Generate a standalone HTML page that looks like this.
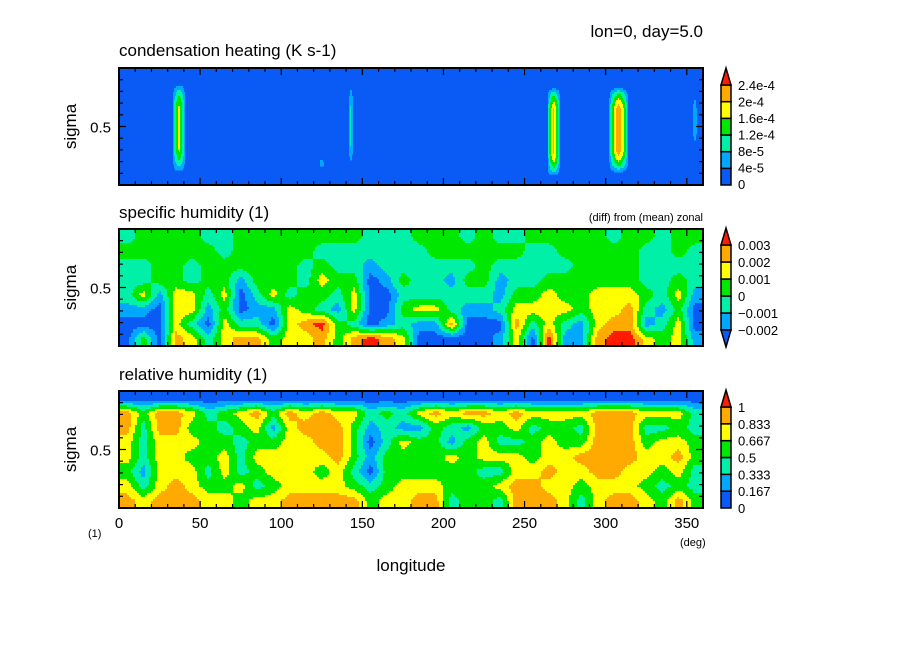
<!DOCTYPE html>
<html><head><meta charset="utf-8"><style>
html,body{margin:0;padding:0;background:#fff;}
svg{display:block;font-family:"Liberation Sans",sans-serif;}
</style></head><body>
<svg id="chart" width="904" height="654" viewBox="0 0 904 654" xmlns="http://www.w3.org/2000/svg">
<rect width="904" height="654" fill="#fff"/>
<text x="703" y="37" font-size="17" text-anchor="end">lon=0, day=5.0</text>
<text x="119" y="56" font-size="17">condensation heating (K s-1)</text>
<text x="119" y="218" font-size="17">specific humidity (1)</text>
<text x="703" y="221" font-size="11" text-anchor="end">(diff) from (mean) zonal</text>
<text x="119" y="380" font-size="17">relative humidity (1)</text>
<text x="88" y="537" font-size="11">(1)</text>
<text x="680" y="546" font-size="11">(deg)</text>
<text x="411" y="571" font-size="17" text-anchor="middle">longitude</text>
<g id="layers"></g>
</svg>
<script>
// ---- data ----
var colors = ["#0a5af5","#00a8ff","#00f0a8","#00e800","#ffff00","#ffaa00","#ff1a00"];
var heatLevels = [0,4e-5,8e-5,1.2e-4,1.6e-4,2e-4,2.4e-4];
var heatLevelLabels = ["0","4e-5","8e-5","1.2e-4","1.6e-4","2e-4","2.4e-4"];
var heatLon = [37,125,143,268,308,355];
var heatWidth = [4,2,1.5,4,6,1.5];
var heatPeak = [1.7e-4,6e-5,9e-5,2.1e-4,2.3e-4,7e-5];
var heatSigTop = [0.14,0.78,0.15,0.17,0.17,0.23];
var heatSigBot = [0.89,0.85,0.83,0.92,0.89,0.66];

var qLevels = [-0.002,-0.001,0,0.001,0.002,0.003];
var qLevelLabels = ["\u22120.002","\u22120.001","0","0.001","0.002","0.003"];
// specific humidity deviation (units 1e-3), rows top->bottom, 36 cols of 10 deg
var qRow0 = [-0.5,0.5,0.5,0.5,0.5,-0.5,-0.5,0.5,0.5,0.5,0.5,0.5,0.5,0.5,0.5,-0.5,-0.5,-0.5,0.5,0.5,0.5,-0.5,0.5,-0.5,-0.5,0.5,0.5,0.5,0.5,0.5,-0.5,0.5,0.5,-0.5,0.5,0.5];
var qRow1 = [0.5,0.5,0.5,0.5,0.5,0.5,-0.5,0.5,0.5,0.5,0.5,0.5,-0.5,-0.5,-0.5,-0.5,-0.5,-0.5,-0.5,0.5,0.5,0.5,0.5,0.5,0.5,-0.5,-0.5,0.5,0.5,0.5,0.5,0.5,-0.5,-0.5,0.5,-0.5];
var qRow2 = [-0.5,-0.5,0.5,0.5,-0.5,0.5,0.5,0.5,0.5,0.5,0.5,-0.5,0.5,-0.5,-0.5,-1.5,-0.5,-0.5,-0.5,-0.5,-0.5,-0.5,0.5,-0.5,-0.5,-0.5,-0.5,-0.5,0.5,0.5,0.5,0.5,-0.5,-0.5,-0.5,-0.5];
var qRow3 = [-0.5,-0.5,0.5,0.5,-0.5,0.5,0.5,-1.5,0.5,0.5,0.5,-0.5,1.5,0.5,0.5,-2.5,-1.5,0.5,-0.5,-0.5,-1.5,0.5,0.5,-1.5,-0.5,-0.5,0.5,0.5,0.5,0.5,0.5,0.5,-0.5,-0.5,0.5,-0.5];
var qRow4 = [-0.5,1.5,-1.5,1.5,1.5,-0.5,1.5,-2.5,-0.5,1.5,-0.5,0.5,0.5,-0.5,1.5,-2.5,-2.5,-0.5,-0.5,-0.5,-0.5,-0.5,-0.5,-1.5,0.5,0.5,1.5,0.5,0.5,1.5,1.5,1.5,0.5,-0.5,1.5,-1.5];
var qRow5 = [-1.5,-1.5,-2.5,1.5,1.5,-1.5,0.5,-2.5,-1.5,-1.5,1.5,0.5,-0.5,-1.5,1.5,-2.5,-2.5,0.5,1.5,1.5,-0.5,-1.5,-1.5,-0.5,1.5,1.5,1.5,1.5,0.5,1.5,1.5,2.5,-0.5,-1.5,0.5,-2.5];
var qRow6 = [-2.5,-2.5,-2.5,1.5,-0.5,-2.5,1.5,-0.5,-0.5,-2.5,1.5,2.5,3.5,0.5,-0.5,-2.5,-1.5,-0.5,-1.5,-1.5,2.5,-2.5,-2.5,-2.5,2.5,-0.5,1.5,-0.5,-1.5,1.5,2.5,2.5,-1.5,-0.5,1.5,-2.5];
var qRow7 = [-2.5,0.5,-2.5,2.5,1.5,-0.5,1.5,2.5,2.5,0.5,1.5,1.5,2.5,0.5,2.5,3.5,2.5,1.5,-2.5,-2.5,-2.5,-2.5,-2.5,-1.5,1.5,-2.5,3.5,-1.5,-1.5,2.5,3.5,3.5,1.5,0.5,1.5,-1.5];

var rhLevels = [0,0.167,0.333,0.5,0.667,0.833,1];
var rhLevelLabels = ["0","0.167","0.333","0.5","0.667","0.833","1"];
var rhRow0 = [0.05,0.05,0.05,0.05,0.05,0.05,0.05,0.05,0.05,0.05,0.05,0.05,0.05,0.05,0.05,0.05,0.05,0.05,0.05,0.05,0.05,0.05,0.05,0.05,0.05,0.05,0.05,0.05,0.05,0.05,0.05,0.05,0.05,0.05,0.05,0.05];
var rhRow1 = [0.92,0.58,0.92,0.92,0.75,0.42,0.58,0.75,0.92,0.58,0.92,0.75,0.92,0.75,0.75,0.42,0.58,0.42,0.75,0.92,0.75,0.92,0.92,0.75,0.92,0.75,0.75,0.75,0.75,0.92,0.92,0.92,0.75,0.75,0.75,0.42];
var rhRow2 = [0.92,0.42,0.92,0.92,0.58,0.58,0.42,0.58,0.75,0.25,0.75,0.92,0.92,0.92,0.58,0.25,0.42,0.25,0.25,0.58,0.42,0.25,0.58,0.58,0.75,0.42,0.58,0.58,0.42,0.92,0.92,0.92,0.42,0.42,0.58,0.42];
var rhRow3 = [0.75,0.42,0.75,0.75,0.75,0.58,0.58,0.42,0.58,0.58,0.75,0.75,0.92,0.92,0.58,0.08,0.42,0.75,0.58,0.58,0.25,0.58,0.75,0.42,0.42,0.58,0.75,0.58,0.58,0.92,0.92,0.92,0.58,0.75,0.75,0.58];
var rhRow4 = [0.75,0.42,0.75,0.75,0.58,0.58,0.75,0.42,0.75,0.75,0.75,0.75,0.75,0.92,0.58,0.25,0.58,0.58,0.58,0.58,0.75,0.58,0.75,0.75,0.75,0.58,0.75,0.75,0.92,0.92,0.92,0.92,0.75,0.75,0.92,0.58];
var rhRow5 = [0.58,0.25,0.75,0.75,0.75,0.42,0.75,0.42,0.58,0.75,0.75,0.75,0.58,0.75,0.42,0.08,0.58,0.58,0.58,0.58,0.58,0.58,0.42,0.42,0.75,0.75,0.92,0.75,0.75,0.92,0.92,0.75,0.75,0.58,0.75,0.42];
var rhRow6 = [0.75,0.42,0.75,0.92,0.75,0.58,0.58,0.75,0.42,0.58,0.75,0.75,0.75,0.75,0.58,0.42,0.58,0.75,0.75,0.75,0.58,0.58,0.58,0.75,0.92,0.92,0.75,0.75,0.58,0.75,0.75,0.75,0.58,0.42,0.58,0.42];
var rhRow7 = [0.92,0.75,0.92,0.92,0.92,0.75,0.75,0.58,0.75,0.75,0.92,0.92,0.92,0.92,0.92,0.58,0.75,0.75,0.92,0.92,0.42,0.58,0.58,0.42,0.92,0.92,0.92,0.75,0.42,0.75,0.92,0.92,0.75,0.58,0.92,0.58];

var xTicks = [0,50,100,150,200,250,300,350];

// ---- drawing ----
var NS = "http://www.w3.org/2000/svg";
var root = document.getElementById("layers");
var X0 = 119, X1 = 703;
var panels = [{top:68,bot:185},{top:229,bot:346},{top:391,bot:508}];
function xScale(lon){ return X0 + lon/360*(X1-X0); }
function yScale(p, sig){ return p.top + sig*(p.bot-p.top); }
function mk(tag, attrs, parent){
  var e = document.createElementNS(NS, tag);
  for (var k in attrs) e.setAttribute(k, attrs[k]);
  (parent||root).appendChild(e); return e;
}
function classify(v, levels, lowOpen){
  var idx = 0;
  for (var i=0;i<levels.length;i++) if (v >= levels[i]) idx = i + (lowOpen?1:0);
  return Math.min(idx, colors.length-1);
}
function gridValue(rows, lon, sig){
  var nc = rows[0].length, nr = rows.length;
  var fx = lon/360*nc - 0.5, fy = sig*nr - 0.5;
  fx = Math.max(0, Math.min(nc-1, fx)); fy = Math.max(0, Math.min(nr-1, fy));
  var i0 = Math.floor(fx), j0 = Math.floor(fy);
  var i1 = Math.min(nc-1,i0+1), j1 = Math.min(nr-1,j0+1);
  var tx = fx-i0, ty = fy-j0;
  var a = rows[j0][i0]*(1-tx)+rows[j0][i1]*tx;
  var b = rows[j1][i0]*(1-tx)+rows[j1][i1]*tx;
  return a*(1-ty)+b*ty;
}
function drawField(p, g, fn, levels, lowOpen, stepX, stepY, skipZero){
  var w = X1-X0, h = p.bot-p.top;
  function flush(run, x0, x1, y){
    if (run < 0) return;
    var r = mk("rect",{x:X0+x0,y:p.top+y,width:x1-x0,height:Math.min(stepY,h-y)+0.5,fill:colors[run]},g);
    
    
  }
  for (var y=0; y<h; y+=stepY){
    var sig = Math.min(0.999,(y+stepY/2)/h);
    var run = -1, runStart = 0;
    for (var x=0; x<w; x+=stepX){
      var lon = Math.min(359.9,(x+stepX/2)/w*360);
      var c = classify(fn(lon,sig), levels, lowOpen);
      if (skipZero && c===0) c = -1;
      if (c !== run){ flush(run, runStart, x, y); run = c; runStart = x; }
    }
    flush(run, runStart, w, y);
  }
}
function heatFn(lon, sig){
  var v = 0;
  for (var i=0;i<heatLon.length;i++){
    var d = Math.abs(lon-heatLon[i]);
    if (d > heatWidth[i]) continue;
    var hx = 1 - d/heatWidth[i];
    var span = heatSigBot[i]-heatSigTop[i];
    if (sig < heatSigTop[i] || sig > heatSigBot[i]) continue;
    var e = Math.min(sig-heatSigTop[i], heatSigBot[i]-sig)/(span*0.25);
    var hy = Math.min(1, e);
    v = Math.max(v, heatPeak[i]*Math.sqrt(hx)*Math.sqrt(hy));
  }
  return v;
}
var qRows = [qRow0,qRow1,qRow2,qRow3,qRow4,qRow5,qRow6,qRow7];
var rhRows = [rhRow0,rhRow1,rhRow2,rhRow3,rhRow4,rhRow5,rhRow6,rhRow7];

function axes(p, idx){
  var g = mk("g",{});
  
  
  for (var lon=0; lon<=360; lon+=10){
    var x = xScale(lon), len = (lon%50===0)?7:4;
    mk("line",{x1:x,y1:p.bot,x2:x,y2:p.bot-len,stroke:"#000","stroke-width":1.2},g);
    mk("line",{x1:x,y1:p.top,x2:x,y2:p.top+len,stroke:"#000","stroke-width":1.2},g);
  }
  for (var s=1; s<10; s++){
    var y = yScale(p, s/10), len2 = (s===5)?7:4;
    mk("line",{x1:X0,y1:y,x2:X0+len2,y2:y,stroke:"#000","stroke-width":1.2},g);
    mk("line",{x1:X1,y1:y,x2:X1-len2,y2:y,stroke:"#000","stroke-width":1.2},g);
  }
  mk("rect",{x:X0,y:p.top,width:X1-X0,height:p.bot-p.top,fill:"none",stroke:"#000","stroke-width":2},g);
  var t = mk("text",{x:X0-8,y:yScale(p,0.5)+6,"font-size":15,"text-anchor":"end"},g);
  t.textContent = "0.5";
  
  
  var yt = mk("text",{x:0,y:0,"font-size":17,"text-anchor":"middle",transform:"translate(76,"+yScale(p,0.5)+") rotate(-90)"},g);
  yt.textContent = "sigma";
  
  
}
function colorbar(idx, boxTop, boxBot, nBoxes, firstColor, topTri, botTri, labels, labelYs){
  var g = mk("g",{});
  
  
  var bx = 721, bw = 10, h = (boxBot-boxTop)/nBoxes;
  for (var i=0;i<nBoxes;i++){
    var r = mk("rect",{x:bx,y:boxBot-(i+1)*h,width:bw,height:h,fill:colors[firstColor+i],stroke:"#000","stroke-width":1.5},g);
    
    
  }
  if (topTri){
    var tp = mk("polygon",{points:bx+","+boxTop+" "+(bx+bw)+","+boxTop+" "+(bx+bw/2)+","+(boxTop-17),fill:colors[6],stroke:"#000","stroke-width":1.5},g);
    
    
  }
  if (botTri){
    var bp = mk("polygon",{points:bx+","+boxBot+" "+(bx+bw)+","+boxBot+" "+(bx+bw/2)+","+(boxBot+17),fill:colors[0],stroke:"#000","stroke-width":1.5},g);
    
    
  }
  for (var j=0;j<labels.length;j++){
    var t = mk("text",{x:738,y:labelYs[j]+5,"font-size":13},g);
    t.textContent = labels[j];
    
    
  }
}

// panel 1
var g1 = mk("g",{});  
var bg = mk("rect",{x:X0,y:panels[0].top,width:X1-X0,height:panels[0].bot-panels[0].top,fill:colors[0]},g1);
 
drawField(panels[0], g1, heatFn, heatLevels, false, 1, 2, true);
axes(panels[0],1);
// panel 2
var g2 = mk("g",{});  
drawField(panels[1], g2, function(l,s){return gridValue(qRows,l,s)/1000;}, qLevels, true, 2, 2, false);
axes(panels[1],2);
// panel 3
var g3 = mk("g",{});  
drawField(panels[2], g3, function(l,s){return gridValue(rhRows,l,s);}, rhLevels.slice(0,6), false, 2, 2, false);
axes(panels[2],3);

// x tick labels
for (var k=0;k<xTicks.length;k++){
  var t = mk("text",{x:xScale(xTicks[k]),y:528,"font-size":15,"text-anchor":"middle"});
  t.textContent = String(xTicks[k]);
  
  
}
// colorbars
function ys(a,b,n){var r=[];for(var i=0;i<n;i++)r.push(b-(b-a)*i/(n-1));return r;}
colorbar(1, 85, 185, 6, 0, true, false, heatLevelLabels, ys(85,184,7));
colorbar(2, 245, 330, 5, 1, true, true, qLevelLabels, ys(245,330,6));
colorbar(3, 407, 508, 6, 0, true, false, rhLevelLabels, ys(407,508,7));
</script>
</body></html>
